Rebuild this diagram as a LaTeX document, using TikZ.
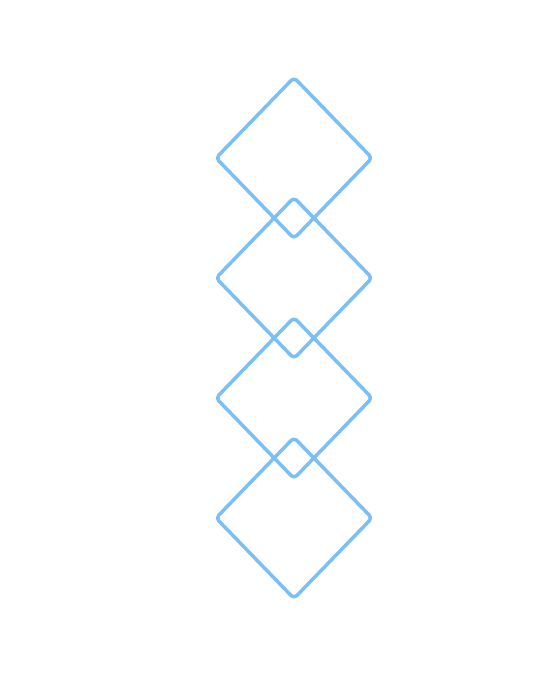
\documentclass[tikz,border=0pt]{standalone}
\definecolor{diablue}{RGB}{122,192,245}
\begin{document}
\begin{tikzpicture}[x=1pt,y=-1pt,
  dia/.style={draw=diablue, line width=3.5pt, rounded corners=4pt, line join=round}]
\useasboundingbox (0,0) rectangle (554,674);
\foreach \n/\cy in {1/158,2/278,3/398,4/518}{
  \coordinate (d\n) at (294,\cy);
  \draw[dia] ([yshift=-80.5pt]d\n) -- ([xshift=78pt]d\n) -- ([yshift=80.5pt]d\n)
    -- ([xshift=-78pt]d\n) -- cycle;
}
\end{tikzpicture}
\end{document}
